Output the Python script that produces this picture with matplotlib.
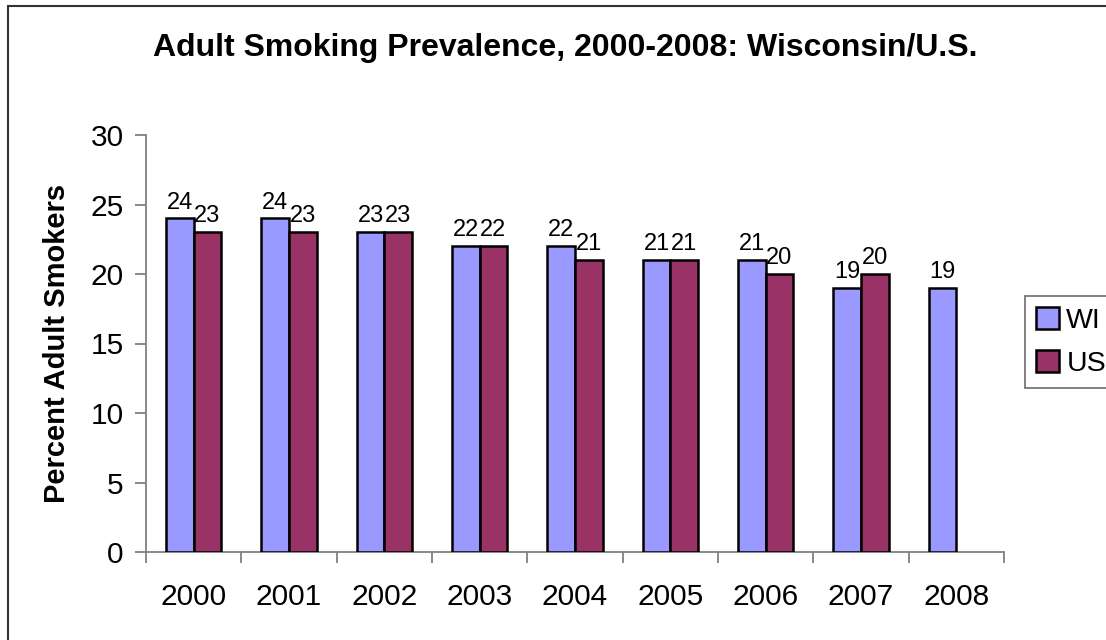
import matplotlib
matplotlib.use("Agg")
import matplotlib.pyplot as plt
import numpy as np
from matplotlib.patches import Rectangle

years = ["2000", "2001", "2002", "2003", "2004", "2005", "2006", "2007", "2008"]
wi = [24, 24, 23, 22, 22, 21, 21, 19, 19]
us = [23, 23, 23, 22, 21, 21, 20, 20, np.nan]

plt.rcParams['font.family'] = ['Liberation Sans', 'DejaVu Sans']

fig = plt.figure(figsize=(11.06, 6.4), dpi=100)
ax = fig.add_axes([146/1106, 1-552/640, (1004-146)/1106, (552-135)/640])

x = np.arange(len(years))
w = 0.29
wi_col = "#9999FF"
us_col = "#993366"
ax.bar(x - w/2, wi, w, color=wi_col, edgecolor="black", linewidth=1.8, label="WI", zorder=3)
ax.bar(x + w/2, us, w, color=us_col, edgecolor="black", linewidth=1.8, label="US", zorder=3)

for xi, v in zip(x, wi):
    ax.text(xi - w/2, v + 0.35, f"{v:g}", ha="center", va="bottom", fontsize=17)
for xi, v in zip(x, us):
    if not np.isnan(v):
        ax.text(xi + w/2, v + 0.35, f"{v:g}", ha="center", va="bottom", fontsize=17)

ax.set_xlim(-0.5, len(years) - 0.5)
ax.set_ylim(0, 30)
ax.set_yticks(np.arange(0, 31, 5))
ax.set_xticks(x)
ax.set_xticklabels(years)
ax.set_xticks(np.arange(-0.5, len(years)), minor=True)
ax.tick_params(axis="x", which="major", length=0, pad=22, labelsize=21.5)
ax.tick_params(axis="x", which="minor", length=8, width=1.3, color="#808080", direction="out")
ax.tick_params(axis="y", length=8, width=1.3, color="#808080", direction="out", labelsize=21.5, pad=8)
for s in ["top", "right"]:
    ax.spines[s].set_visible(False)
for s in ["left", "bottom"]:
    ax.spines[s].set_color("#808080")
    ax.spines[s].set_linewidth(1.3)

ax.set_ylabel("Percent Adult Smokers", fontsize=21, fontweight="bold", labelpad=14)
fig.text(565/1106, 1-48/640, "Adult Smoking Prevalence, 2000-2008: Wisconsin/U.S.",
         ha="center", va="center", fontsize=23, fontweight="bold")

leg = ax.legend(loc="upper left", bbox_to_anchor=(1025/1106, 1-296/640), bbox_transform=fig.transFigure,
                fontsize=20.5, frameon=True, fancybox=False, edgecolor="#555555",
                borderpad=0.4, labelspacing=0.55, handlelength=0.8, handleheight=0.8,
                handletextpad=0.25, borderaxespad=0)
leg.get_frame().set_linewidth(1.3)

fig.patches.append(Rectangle((8/1106, -0.1), 1.2, (1-6/640) + 0.1, transform=fig.transFigure,
                             fill=False, edgecolor="#333333", linewidth=1.5))

fig.savefig("out.png", dpi=100)
